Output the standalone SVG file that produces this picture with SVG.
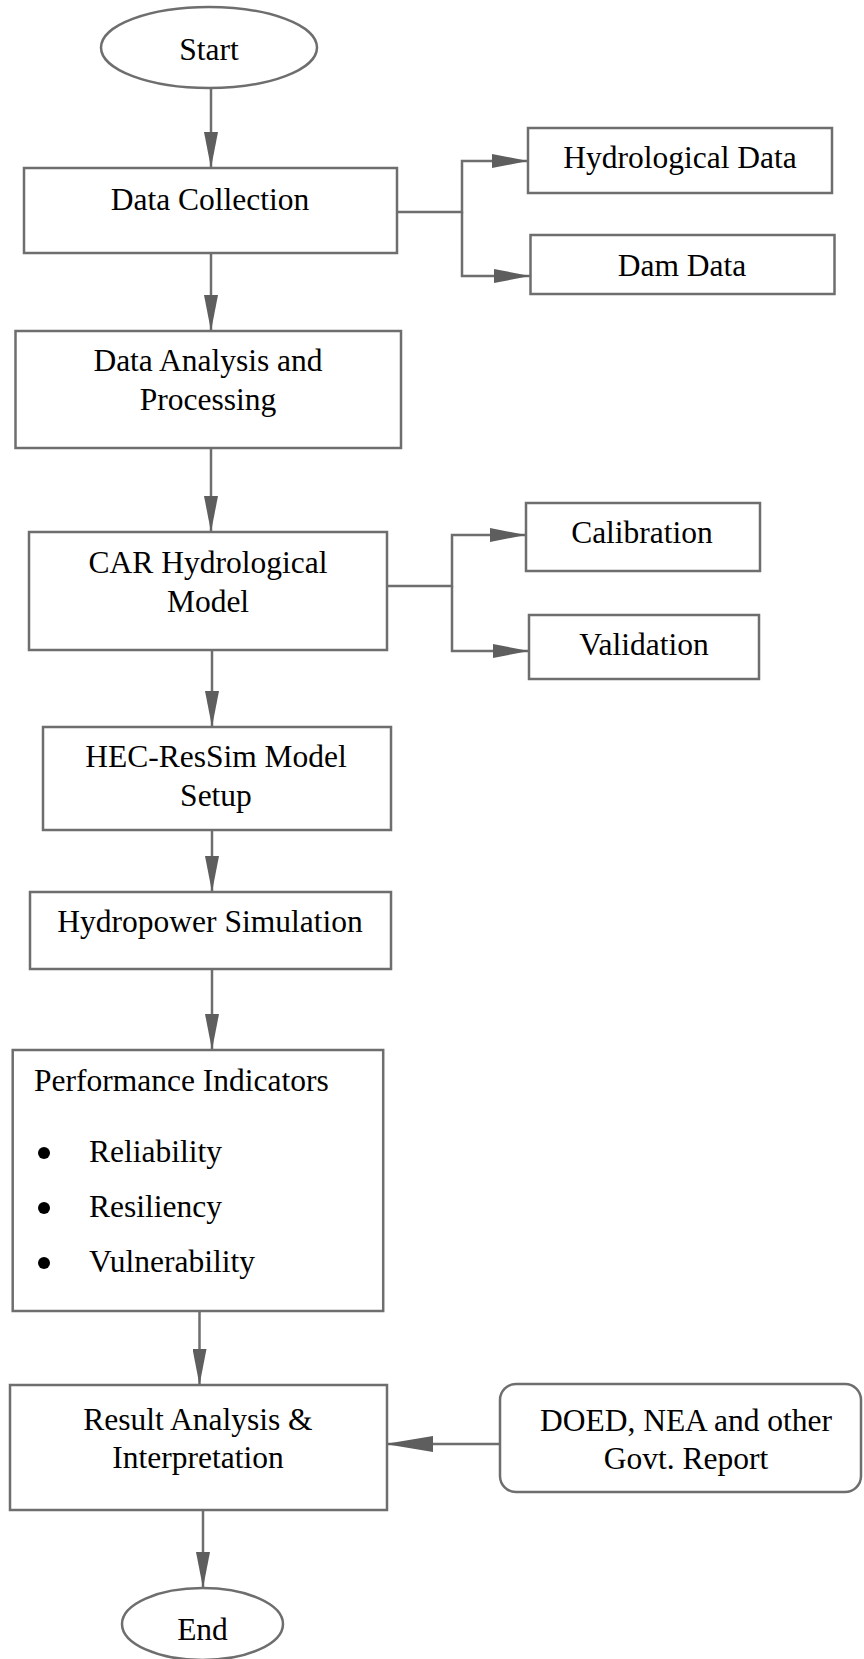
<svg xmlns="http://www.w3.org/2000/svg" width="864" height="1659" viewBox="0 0 864 1659">
<style>
.n{fill:#fff;stroke:#6e6e6e;stroke-width:2.5}
.t{font-family:"Liberation Serif","Times New Roman",serif;font-size:31.5px;fill:#000}
.c{text-anchor:middle}
.e{fill:none;stroke:#6e6e6e;stroke-width:2.5}
</style>
<defs>
<marker id="a" markerUnits="userSpaceOnUse" markerWidth="36" markerHeight="14" refX="36" refY="7" orient="auto" viewBox="0 0 36 14"><path d="M0,0 L36,7 L0,14 z" fill="#5e5e5e"/></marker>
<marker id="b" markerUnits="userSpaceOnUse" markerWidth="48" markerHeight="16" refX="48" refY="8" orient="auto" viewBox="0 0 48 16"><path d="M0,0 L48,8 L0,16 z" fill="#5e5e5e"/></marker>
</defs>
<rect width="864" height="1659" fill="#fff"/>
<g id="connectors">
<path class="e" d="M211,88 V168" marker-end="url(#a)"/>
<path class="e" d="M397,212 H462 V161 H528" marker-end="url(#a)"/>
<path class="e" d="M462,212 V276 H530" marker-end="url(#a)"/>
<path class="e" d="M211,253 V331" marker-end="url(#a)"/>
<path class="e" d="M211,448 V532" marker-end="url(#a)"/>
<path class="e" d="M387,586 H452 V535 H526" marker-end="url(#a)"/>
<path class="e" d="M452,586 V651 H529" marker-end="url(#a)"/>
<path class="e" d="M212,650 V727" marker-end="url(#a)"/>
<path class="e" d="M212,830 V892" marker-end="url(#a)"/>
<path class="e" d="M212,969 V1050" marker-end="url(#a)"/>
<path class="e" d="M199.5,1311 V1385" marker-end="url(#a)"/>
<path class="e" d="M500,1444 H385" marker-end="url(#b)"/>
<path class="e" d="M203,1510 V1588" marker-end="url(#a)"/>
</g>
<g id="start"><ellipse class="n" cx="209" cy="47.5" rx="108" ry="40.5"/><text class="t c" x="209" y="60">Start</text></g>
<g id="data-collection"><rect class="n" x="24" y="168" width="373" height="85"/><text class="t c" x="210" y="209.5">Data Collection</text></g>
<g id="hydrological-data"><rect class="n" x="528" y="128" width="304" height="65"/><text class="t c" x="680" y="168">Hydrological Data</text></g>
<g id="dam-data"><rect class="n" x="530.5" y="235" width="304" height="59"/><text class="t c" x="682" y="276">Dam Data</text></g>
<g id="data-analysis"><rect class="n" x="15.5" y="331" width="385.5" height="117"/><text class="t c" x="208" y="371">Data Analysis and</text><text class="t c" x="208" y="410">Processing</text></g>
<g id="car-model"><rect class="n" x="29" y="532" width="358" height="118"/><text class="t c" x="208" y="573">CAR Hydrological</text><text class="t c" x="208" y="612">Model</text></g>
<g id="calibration"><rect class="n" x="526" y="503" width="234" height="68"/><text class="t c" x="642" y="543">Calibration</text></g>
<g id="validation"><rect class="n" x="529" y="615" width="230" height="64"/><text class="t c" x="644" y="655">Validation</text></g>
<g id="hec-ressim"><rect class="n" x="43" y="727" width="348" height="103"/><text class="t c" x="216" y="767">HEC-ResSim Model</text><text class="t c" x="216" y="806">Setup</text></g>
<g id="hydropower-simulation"><rect class="n" x="30" y="892" width="361" height="77"/><text class="t c" x="210" y="932">Hydropower Simulation</text></g>
<g id="performance-indicators"><rect class="n" x="12.7" y="1050" width="370.5" height="261"/>
<text class="t" x="34" y="1091">Performance Indicators</text>
<circle cx="44" cy="1153" r="6" fill="#000"/><text class="t" x="89" y="1162">Reliability</text>
<circle cx="44" cy="1208" r="6" fill="#000"/><text class="t" x="89" y="1217">Resiliency</text>
<circle cx="44" cy="1263" r="6" fill="#000"/><text class="t" x="89" y="1272">Vulnerability</text>
</g>
<g id="result-analysis"><rect class="n" x="10" y="1385" width="377" height="125"/><text class="t c" x="198" y="1430">Result Analysis &amp;</text><text class="t c" x="198" y="1468">Interpretation</text></g>
<g id="doed-report"><rect class="n" x="500" y="1384" width="361" height="108" rx="16"/><text class="t c" x="686" y="1431">DOED, NEA and other</text><text class="t c" x="686" y="1469">Govt. Report</text></g>
<g id="end"><ellipse class="n" cx="202.5" cy="1624" rx="80.5" ry="36"/><text class="t c" x="202.5" y="1640">End</text></g>
</svg>
